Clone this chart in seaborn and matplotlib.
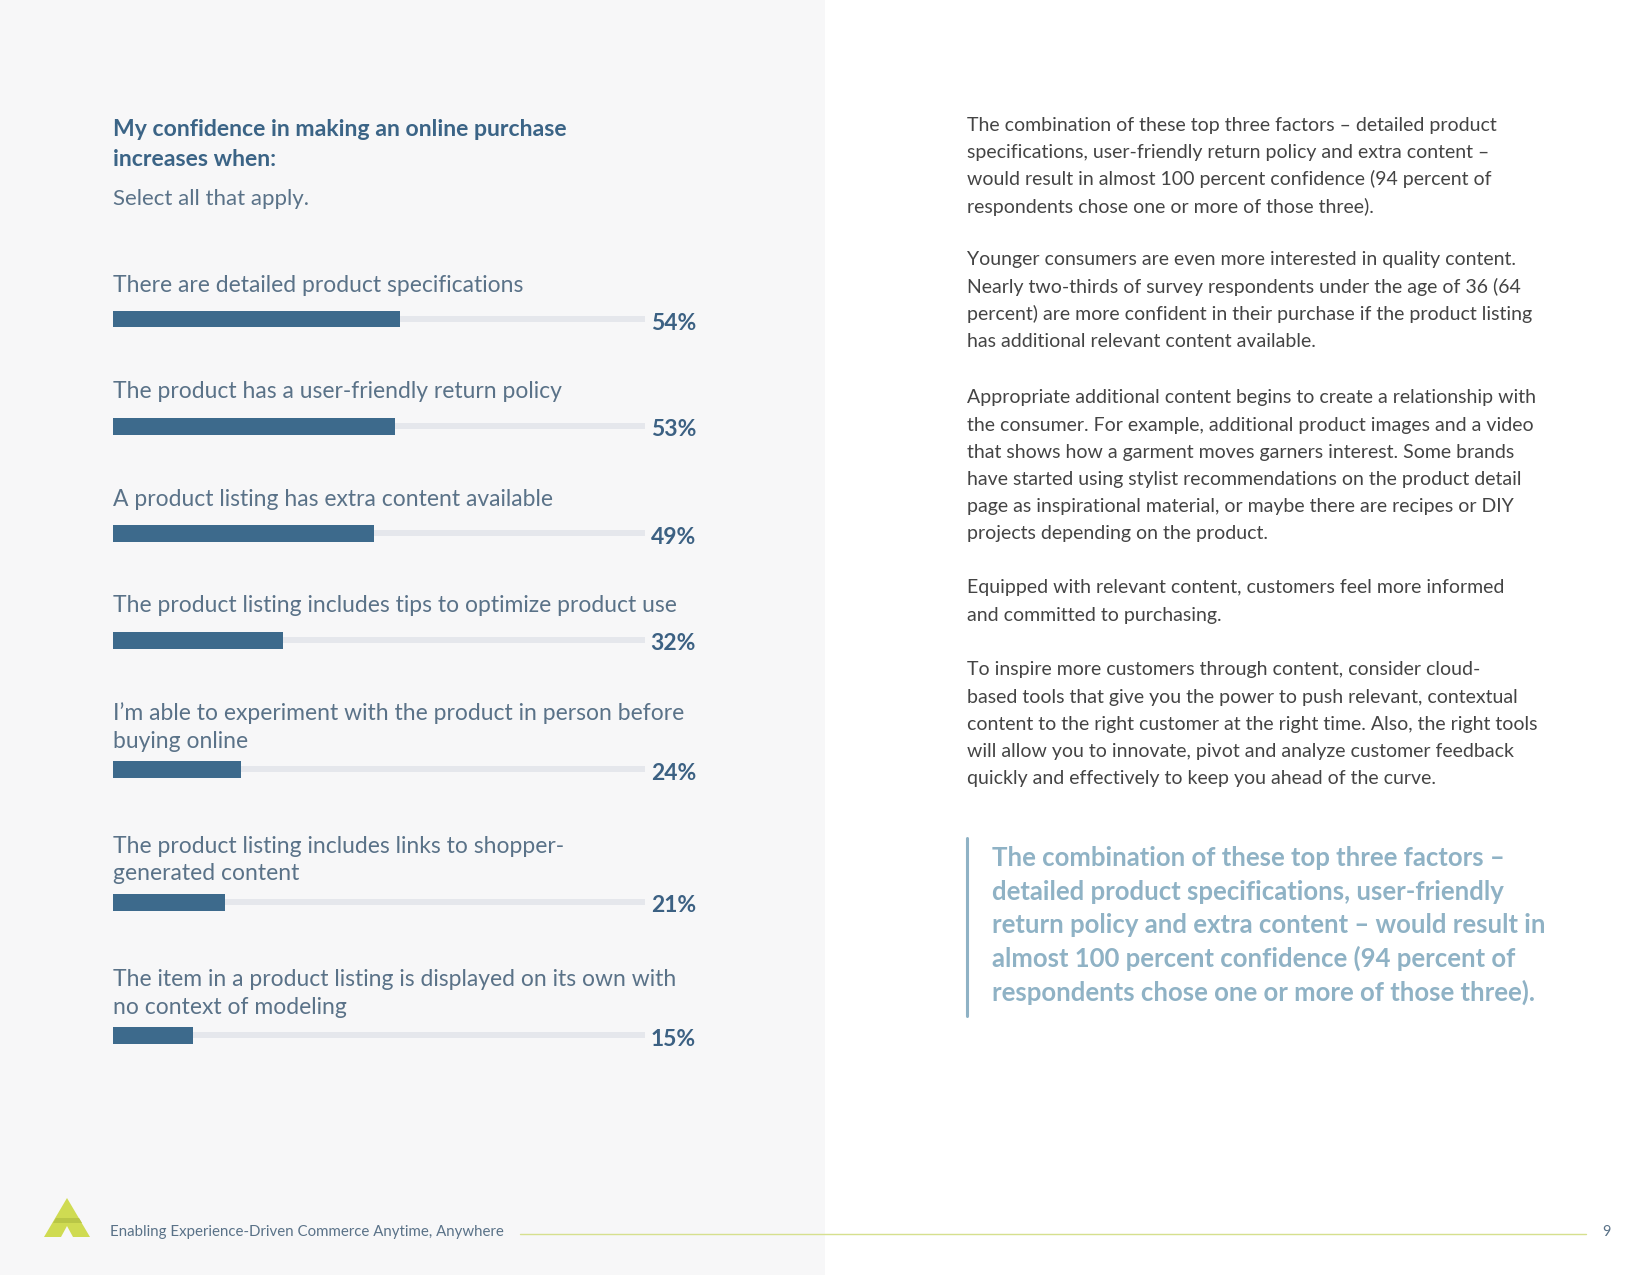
import pandas as pd
import matplotlib.pyplot as plt
import matplotlib.patches as mpatches
import seaborn as sns

# -----------------------------
# Data
# -----------------------------
items = [
    "There are detailed product specifications",
    "The product has a user-friendly return policy",
    "A product listing has extra content available",
    "The product listing includes tips to optimize product use",
    "I\u2019m able to experiment with the product in person before\nbuying online",
    "The product listing includes links to shopper-\ngenerated content",
    "The item in a product listing is displayed on its own with\nno context of modeling",
]
shares = [54, 53, 49, 32, 24, 21, 15]
scale_max = 100

title = "My confidence in making an online purchase\nincreases when:"
subtitle = "Select all that apply."

body = [
    ["The combination of these top three factors \u2013 detailed product",
     "specifications, user-friendly return policy and extra content \u2013",
     "would result in almost 100 percent confidence (94 percent of",
     "respondents chose one or more of those three)."],
    ["Younger consumers are even more interested in quality content.",
     "Nearly two-thirds of survey respondents under the age of 36 (64",
     "percent) are more confident in their purchase if the product listing",
     "has additional relevant content available."],
    ["Appropriate additional content begins to create a relationship with",
     "the consumer. For example, additional product images and a video",
     "that shows how a garment moves garners interest. Some brands",
     "have started using stylist recommendations on the product detail",
     "page as inspirational material, or maybe there are recipes or DIY",
     "projects depending on the product."],
    ["Equipped with relevant content, customers feel more informed",
     "and committed to purchasing."],
    ["To inspire more customers through content, consider cloud-",
     "based tools that give you the power to push relevant, contextual",
     "content to the right customer at the right time. Also, the right tools",
     "will allow you to innovate, pivot and analyze customer feedback",
     "quickly and effectively to keep you ahead of the curve."],
]
quote = [
    "The combination of these top three factors \u2013",
    "detailed product specifications, user-friendly",
    "return policy and extra content \u2013 would result in",
    "almost 100 percent confidence (94 percent of",
    "respondents chose one or more of those three).",
]
footer = "Enabling Experience-Driven Commerce Anytime, Anywhere"
page_no = "9"

# -----------------------------
# Style
# -----------------------------
sns.set_theme(style="white")
plt.rcParams["font.family"] = ["Lato", "DejaVu Sans"]

W, H = 1650, 1275
panel_bg = "#f7f7f8"
bar_color = "#3d6a8c"
track_color = "#e5e7ec"
title_color = "#3b6486"
label_color = "#5a7288"
pct_color = "#3c6183"
body_color = "#444444"
quote_color = "#8fb2c5"
lime = "#cfdb52"

fig = plt.figure(figsize=(W / 100, H / 100), dpi=100, facecolor="white")


def fx(x):
    return x / W


def fy(y):
    return 1 - y / H


# left grey panel (behind everything)
fig.patches.append(mpatches.Rectangle((0, 0), fx(825), 1, transform=fig.transFigure,
                                      facecolor=panel_bg, edgecolor="none", zorder=-5))

# -----------------------------
# Left: title and bars
# -----------------------------
title_lines = title.split("\n")
for k, line in enumerate(title_lines):
    fig.text(fx(113), fy(129 + 30 * k), line, fontsize=16.6, fontweight="bold",
             color=title_color, va="center")
fig.text(fx(113), fy(199), subtitle, fontsize=16, color=label_color, va="center")

x0, x1 = 113, 645
bar_h = 20
y_bar = 319
prev_lines = 1
for i, (label, val) in enumerate(zip(items, shares)):
    lines = label.split("\n")
    n_lines = len(lines)
    if i > 0:
        y_bar += 107 + 22 * (n_lines - 1) + 4 * (prev_lines - 1)
    prev_lines = n_lines

    ax = fig.add_axes([fx(x0), fy(y_bar + bar_h / 2), (x1 - x0) / W, bar_h / H])
    ax.set_facecolor("none")
    track_df = pd.DataFrame({"item": [label], "value": [scale_max]})
    val_df = pd.DataFrame({"item": [label], "value": [val]})
    sns.barplot(data=track_df, x="value", y="item", color=track_color, width=0.3,
                saturation=1, linewidth=0, ax=ax)
    sns.barplot(data=val_df, x="value", y="item", color=bar_color, width=0.85,
                saturation=1, linewidth=0, ax=ax)
    ax.set_xlim(0, scale_max)
    ax.set_ylim(0.5, -0.5)
    ax.axis("off")

    # label above the bar
    last_gap = 34 if n_lines == 1 else 28
    for k, line in enumerate(lines):
        ly = y_bar - last_gap - 27.5 * (n_lines - 1 - k)
        fig.text(fx(113), fy(ly), line, fontsize=16.5, color=label_color, va="center")

    # value at the right
    fig.text(fx(696), fy(y_bar + 4), f"{val}%", fontsize=16.5, fontweight="bold",
             color=pct_color, ha="right", va="center")

# -----------------------------
# Right: body text and pull quote
# -----------------------------
para_tops = [125, 260, 398, 588, 670]
for top, para in zip(para_tops, body):
    for k, line in enumerate(para):
        fig.text(fx(967), fy(top + 27.2 * k), line, fontsize=14, color=body_color,
                 va="center")

fig.add_artist(plt.Line2D([fx(967), fx(967)], [fy(838), fy(1016)], color=quote_color,
                          linewidth=2.2, transform=fig.transFigure))
for k, line in enumerate(quote):
    fig.text(fx(992), fy(858 + 33.6 * k), line, fontsize=18.5, fontweight="bold",
             color=quote_color, va="center")

# -----------------------------
# Footer
# -----------------------------
logo = mpatches.Polygon([(fx(67), fy(1198)), (fx(44), fy(1237)), (fx(90), fy(1237))],
                        closed=True, transform=fig.transFigure, facecolor=lime,
                        edgecolor="none")
fig.add_artist(logo)
band = mpatches.Polygon([(fx(56), fy(1218)), (fx(79), fy(1218)), (fx(82), fy(1223)),
                         (fx(53), fy(1223))], closed=True, transform=fig.transFigure,
                        facecolor="#b9c646", edgecolor="none")
fig.add_artist(band)
notch = mpatches.Polygon([(fx(67), fy(1226)), (fx(61), fy(1237)), (fx(73), fy(1237))],
                         closed=True, transform=fig.transFigure, facecolor=panel_bg,
                         edgecolor="none")
fig.add_artist(notch)

fig.text(fx(110), fy(1232), footer, fontsize=10.8, color=label_color, va="center")
fig.add_artist(plt.Line2D([fx(520), fx(1586)], [fy(1234), fy(1234)], color="#d6e08e",
                          linewidth=1.0, transform=fig.transFigure))
fig.text(fx(1606), fy(1232), page_no, fontsize=10.5, color=label_color, ha="center",
         va="center")

plt.savefig("out.png", dpi=100, facecolor="white")
